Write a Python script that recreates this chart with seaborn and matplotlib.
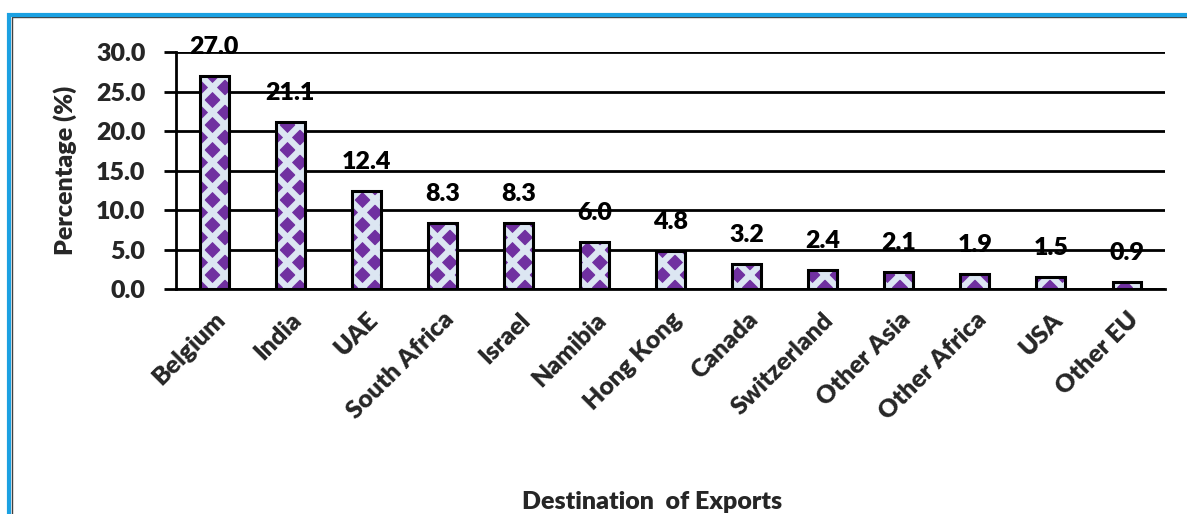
import matplotlib
matplotlib.use("Agg")
import matplotlib.pyplot as plt
import seaborn as sns
import pandas as pd
from matplotlib.patches import Rectangle
from matplotlib.backend_bases import GraphicsContextBase

# Export destinations and their share of exports (%)
destinations = ["Belgium", "India", "UAE", "South Africa", "Israel", "Namibia",
                "Hong Kong", "Canada", "Switzerland", "Other Asia",
                "Other Africa", "USA", "Other EU"]
shares = [27.0, 21.1, 12.4, 8.3, 8.3, 6.0, 4.8, 3.2, 2.4, 2.1, 1.9, 1.5, 0.9]
y_ticks = [0, 5, 10, 15, 20, 25, 30]

df = pd.DataFrame({"destination": destinations, "share": shares})

# Hatch density tuned so the diamond pattern cell is about 25 px
_orig_hatch_path = GraphicsContextBase.get_hatch_path
def _diamond_hatch_path(self, density=6.0):
    return _orig_hatch_path(self, density=8.0)
GraphicsContextBase.get_hatch_path = _diamond_hatch_path

sns.set_style("white")
plt.rcParams["font.family"] = ["Lato", "DejaVu Sans"]
plt.rcParams["font.weight"] = "heavy"
plt.rcParams["hatch.linewidth"] = 4.5

PURPLE = "#7030A0"
LIGHT = "#DCE6F2"
FS = 18
W = "heavy"

fig = plt.figure(figsize=(11.87, 5.14), dpi=100)
ax = fig.add_axes([0.1483, 0.4377, 0.9815 - 0.1483, 0.8988 - 0.4377])

sns.barplot(data=df, x="destination", y="share", ax=ax, width=0.38,
            color=PURPLE, saturation=1, zorder=3)

# Diamond pattern: purple base with a light cross-hatch, then a black outline
for p in list(ax.patches):
    p.set_facecolor(PURPLE)
    p.set_edgecolor(LIGHT)
    p.set_hatch("x")
    p.set_linewidth(0)
    ax.add_patch(Rectangle(p.get_xy(), p.get_width(), p.get_height(),
                           fill=False, edgecolor="black", linewidth=2.2,
                           zorder=4))

# Value labels above bars
for i, v in enumerate(shares):
    ax.annotate(f"{v:.1f}", xy=(i, v), xytext=(0, 13), textcoords="offset points",
                ha="center", va="bottom", fontsize=FS, fontweight=W,
                color="black", zorder=5)

ax.set_ylim(0, 30)
ax.set_xlim(-0.5, len(destinations) - 0.5)
ax.set_yticks(y_ticks)
ax.set_yticklabels([f"{t:.1f}" for t in y_ticks], fontsize=FS, fontweight=W)
ax.yaxis.grid(True, color="black", linewidth=2, zorder=0)
ax.set_axisbelow(True)

ax.tick_params(axis="y", direction="out", length=9, width=2, color="black",
               left=True, pad=13)
ax.tick_params(axis="x", length=0, pad=14)
plt.setp(ax.get_xticklabels(), rotation=45, ha="right", rotation_mode="anchor",
         fontsize=FS, fontweight=W)

for side in ["top", "right"]:
    ax.spines[side].set_visible(False)
for side in ["left", "bottom"]:
    ax.spines[side].set_color("black")
    ax.spines[side].set_linewidth(2)

ax.set_ylabel("Percentage (%)", fontsize=FS, fontweight=W)
ax.yaxis.set_label_coords(-0.100, 0.5)
ax.set_xlabel("Destination  of Exports", fontsize=FS, fontweight=W)
ax.xaxis.set_label_coords(0.481, -0.852)

# Chart frame: blue border with a thin dark inner edge
fig.add_artist(Rectangle((9.5 / 1187, -0.2), 1.2, 1 - 15 / 514 + 0.2,
                         transform=fig.transFigure, fill=False,
                         edgecolor="#1BA1E2", linewidth=3, zorder=10))
fig.add_artist(Rectangle((11.5 / 1187, -0.2), 1.2, 1 - 17.5 / 514 + 0.2,
                         transform=fig.transFigure, fill=False,
                         edgecolor="#404040", linewidth=1, zorder=9))

fig.savefig("out.png", dpi=100, facecolor="white")
